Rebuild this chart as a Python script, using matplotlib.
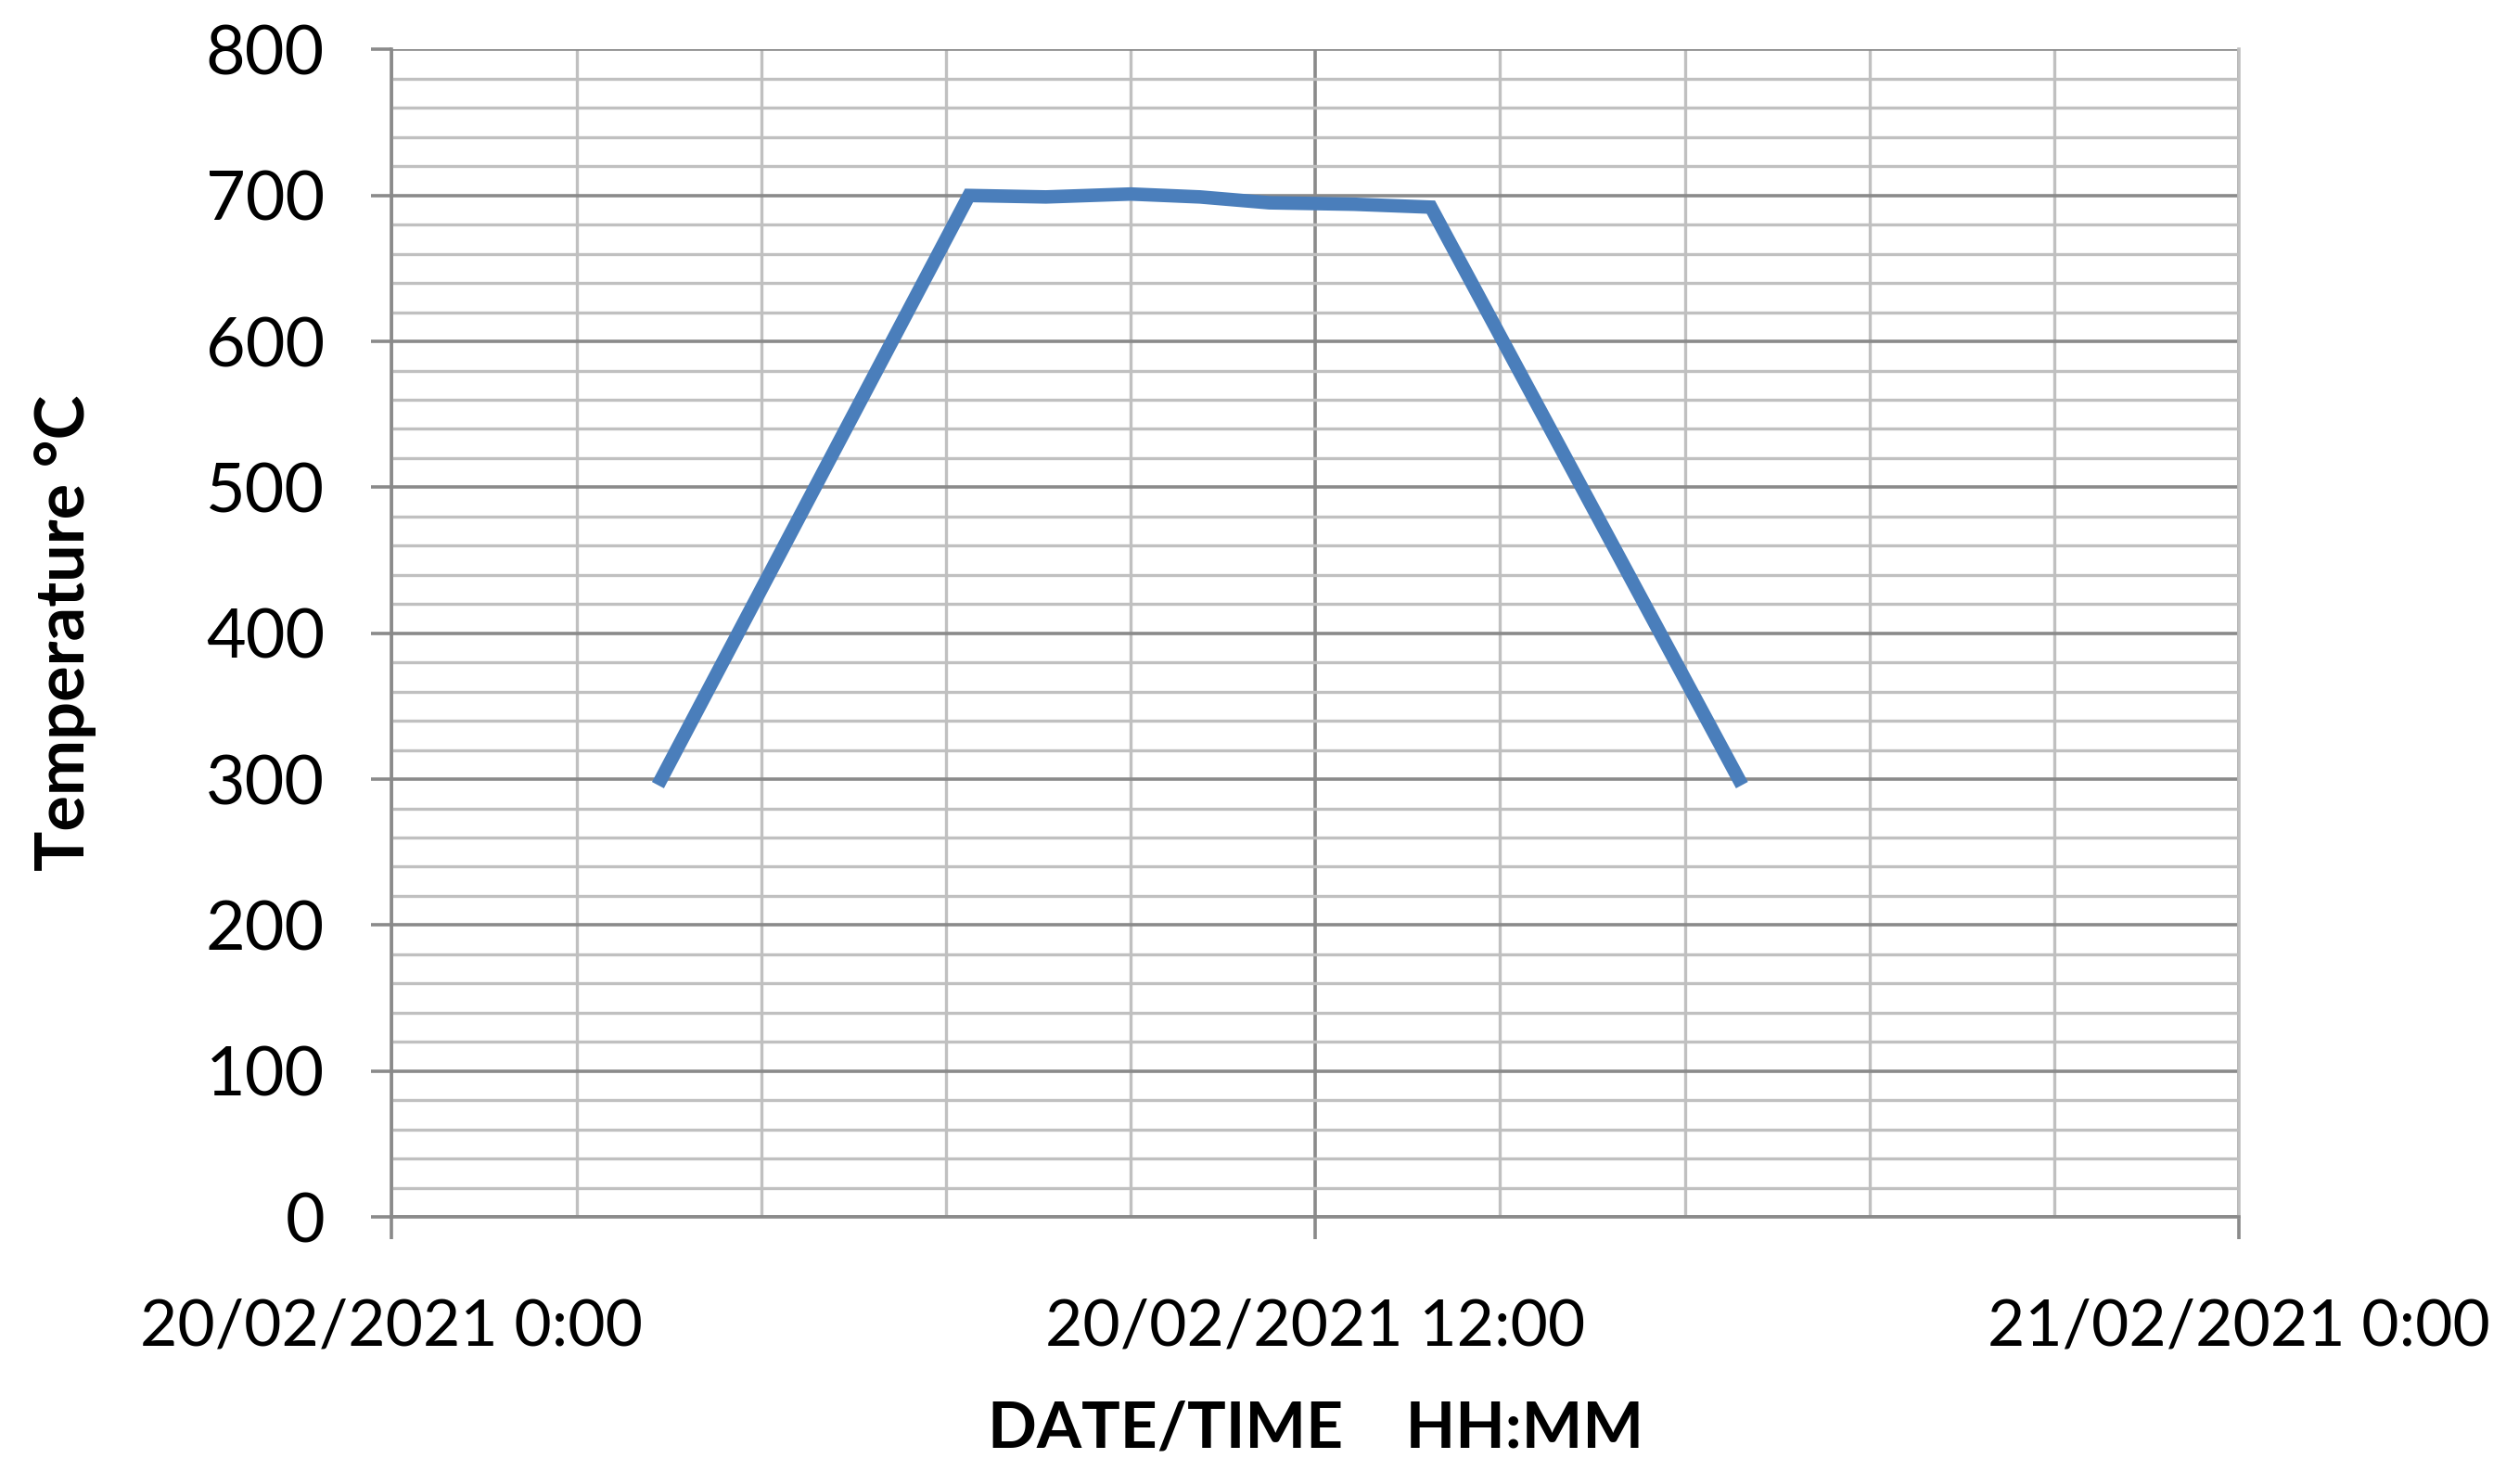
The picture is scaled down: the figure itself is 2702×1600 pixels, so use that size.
import matplotlib.pyplot as plt
from matplotlib.ticker import MultipleLocator, FixedLocator

# hours after 20/02/2021 0:00
hours = [3.5, 7.5, 8.5, 9.6, 10.5, 11.4, 12.5, 13.5, 17.5]
temps = [300, 700, 699, 701, 699, 695, 694, 692, 300]

xtick_pos = [0, 12, 24]
xtick_labels = ['20/02/2021 0:00', '20/02/2021 12:00', '21/02/2021 0:00']

if __name__ == '__main__':
    plt.rcParams['font.family'] = ['Lato', 'DejaVu Sans']

    fig = plt.figure(figsize=(27.02, 16), dpi=100)
    ax = fig.add_axes([0.1563, 0.180, 0.7372, 0.7866])

    minor_c = '#c0c0c0'
    major_c = '#8a8a8a'

    ax.set_xlim(0, 24)
    ax.set_ylim(0, 800)

    ax.xaxis.set_major_locator(FixedLocator(xtick_pos))
    ax.xaxis.set_minor_locator(MultipleLocator(2.4))
    ax.yaxis.set_major_locator(MultipleLocator(100))
    ax.yaxis.set_minor_locator(MultipleLocator(20))

    ax.grid(which='minor', color=minor_c, lw=2.4, zorder=0)
    ax.grid(which='major', color=major_c, lw=2.6, zorder=0)
    ax.set_axisbelow(True)

    for s in ax.spines.values():
        s.set_color(major_c)
        s.set_linewidth(2.6)
    ax.spines['top'].set_visible(False)
    ax.spines['right'].set_color(minor_c)

    ax.plot(hours, temps, color='#4a7ebb', lw=10.5, solid_joinstyle='miter', zorder=3)

    ax.set_xticks(xtick_pos)
    ax.set_xticklabels(xtick_labels)
    ax.tick_params(which='major', axis='x', length=17, width=2.6, color=major_c,
                   direction='out', pad=46, labelsize=50)
    ax.tick_params(which='major', axis='y', length=16, width=2.6, color=major_c,
                   direction='out', pad=36, labelsize=53)
    ax.tick_params(which='minor', length=0)

    ax.set_ylabel('Temperature °C', fontsize=52, fontweight='bold', labelpad=85)
    ax.set_xlabel('DATE/TIME    HH:MM', fontsize=50, fontweight='bold', labelpad=34)

    plt.savefig('out.png', dpi=100)
